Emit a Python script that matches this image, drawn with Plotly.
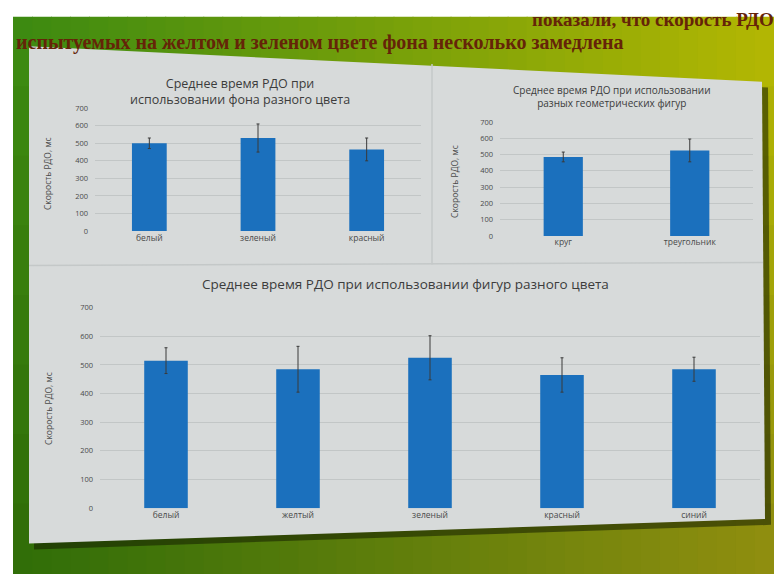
import plotly.graph_objects as go

W, H = 774, 578

# ---- data ----
title1 = "Среднее время РДО при<br>использовании фона разного цвета"
cats1 = ["белый", "зеленый", "красный"]
vals1 = [500, 530, 465]
err1 = [30, 80, 65]

title2 = "Среднее время РДО при использовании<br>разных геометрических фигур"
cats2 = ["круг", "треугольник"]
vals2 = [485, 525]
err2 = [30, 70]

title3 = "Среднее время РДО при использовании фигур разного цвета"
cats3 = ["белый", "желтый", "зеленый", "красный", "синий"]
vals3 = [515, 485, 525, 465, 485]
err3 = [45, 80, 77, 60, 42]

y_ticks = [0, 100, 200, 300, 400, 500, 600, 700]
y_title = "Скорость РДО, мс"
slide_line1 = "показали, что скорость РДО"
slide_line2 = "испытуемых на желтом и зеленом цвете фона несколько замедлена"

BAR = "#1b70bd"
ERR = "#3a3a3a"
GRID = "#c2c6c6"
TXT = "#4a4a4a"
FONT = "Open Sans"


def px(x):
    return x / W


def py(y):
    return 1 - y / H


def hexrgb(h):
    h = h.lstrip("#")
    return [int(h[i:i + 2], 16) for i in (0, 2, 4)]


def mix(a, b, t):
    return [a[i] + (b[i] - a[i]) * t for i in range(3)]


shapes = []
# gradient slide background (decoration)
TL, TR = hexrgb("#3d8c12"), hexrgb("#b6ba02")
BL, BR = hexrgb("#2f6c08"), hexrgb("#8e8c10")
nx, ny = 40, 8
x0, y0 = 13, 12
for i in range(nx):
    for j in range(ny):
        tx = (i + 0.5) / nx
        ty = (j + 0.5) / ny
        c = mix(mix(TL, TR, tx), mix(BL, BR, tx), ty)
        shapes.append(dict(
            type="rect", xref="paper", yref="paper", layer="below",
            x0=px(x0 + (W - x0) * i / nx), x1=px(x0 + (W - x0) * (i + 1) / nx + 1),
            y0=py(y0 + (H - y0) * j / ny), y1=py(y0 + (H - y0) * (j + 1) / ny + 1),
            fillcolor="rgb(%d,%d,%d)" % tuple(int(v) for v in c),
            line=dict(width=0)))


def path(pts):
    s = "M " + " L ".join("%.5f,%.5f" % (px(a), py(b)) for a, b in pts) + " Z"
    return s


# shadow + panel
shapes.append(dict(type="path", xref="paper", yref="paper", layer="below",
                   path=path([(34, 48), (768, 84), (771, 529), (34, 554)]),
                   fillcolor="rgba(20,30,0,0.55)", line=dict(width=0)))
shapes.append(dict(type="path", xref="paper", yref="paper", layer="below",
                   path=path([(29, 42), (762, 78), (765, 523), (29, 548)]),
                   fillcolor="#d7dada", line=dict(width=0)))
# dividers
shapes.append(dict(type="line", xref="paper", yref="paper", layer="below",
                   x0=px(29), x1=px(763), y0=py(265), y1=py(262),
                   line=dict(color="#c4c8c8", width=1.5)))
shapes.append(dict(type="line", xref="paper", yref="paper", layer="below",
                   x0=px(432), x1=px(432), y0=py(60), y1=py(264),
                   line=dict(color="#c4c8c8", width=1.5)))

fig = go.Figure()


def add_chart(idx, cats, vals, errs, xdom, ydom, bw):
    xa = "x" if idx == 1 else "x%d" % idx
    ya = "y" if idx == 1 else "y%d" % idx
    fig.add_trace(go.Bar(
        x=cats, y=vals, xaxis=xa, yaxis=ya, width=bw,
        marker=dict(color=BAR, line=dict(width=0)),
        error_y=dict(type="data", array=errs, visible=True,
                     color=ERR, thickness=1, width=1.5),
        showlegend=False))
    kx = "xaxis" if idx == 1 else "xaxis%d" % idx
    ky = "yaxis" if idx == 1 else "yaxis%d" % idx
    fig.layout[kx] = dict(domain=[px(xdom[0]), px(xdom[1])], anchor=ya,
                          showgrid=False, showline=False, ticks="",
                          tickfont=dict(size=8.5, color=TXT, family=FONT),
                          fixedrange=True)
    fig.layout[ky] = dict(domain=[py(ydom[1]), py(ydom[0])], anchor=xa,
                          range=[0, 700], tickvals=y_ticks,
                          showgrid=True, gridcolor=GRID, gridwidth=1,
                          zeroline=False, showline=False, ticks="",
                          ticklabelstandoff=6,
                          tickfont=dict(size=7.5, color=TXT, family=FONT),
                          fixedrange=True)


add_chart(1, cats1, vals1, err1, (95, 421), (105, 230), 0.32)
add_chart(2, cats2, vals2, err2, (500, 753), (119, 235), 0.31)
add_chart(3, cats3, vals3, err3, (100, 760), (308, 512), 0.33)

ann = []
ann.append(dict(text=title1, x=px(240), y=py(88), xref="paper", yref="paper",
                xanchor="center", yanchor="middle",
                showarrow=False, font=dict(size=12.5, color="#3c3c3c", family=FONT)))
ann.append(dict(text=title2, x=px(612), y=py(93), xref="paper", yref="paper",
                xanchor="center", yanchor="middle",
                showarrow=False, font=dict(size=10, color="#3c3c3c", family=FONT)))
ann.append(dict(text=title3, x=px(405), y=py(284), xref="paper", yref="paper",
                xanchor="center", yanchor="middle",
                showarrow=False, font=dict(size=13.5, color="#3c3c3c", family=FONT)))
for (xx, yy) in [(47, 172), (455, 180), (49, 411)]:
    ann.append(dict(text=y_title, x=px(xx), y=py(yy), xref="paper", yref="paper",
                    xanchor="center", yanchor="middle",
                    textangle=-90, showarrow=False,
                    font=dict(size=8.5, color=TXT, family=FONT)))
ann.append(dict(text="<b>" + slide_line1 + "</b>", x=px(776), y=py(15), xref="paper", yref="paper",
                xanchor="right", yanchor="middle", showarrow=False,
                font=dict(size=19, color="#652408", family="Liberation Serif")))
ann.append(dict(text="<b>" + slide_line2 + "</b>", x=px(14), y=py(38), xref="paper", yref="paper",
                xanchor="left", yanchor="middle", showarrow=False,
                font=dict(size=20, color="#652408", family="Liberation Serif")))

fig.update_layout(
    width=W, height=H, margin=dict(l=0, r=0, t=0, b=0),
    paper_bgcolor="white", plot_bgcolor="rgba(0,0,0,0)",
    shapes=shapes, annotations=ann, bargap=0.68,
)

fig.write_html("out.html", config={"displayModeBar": False},
               post_script="document.body.style.margin='0';document.body.style.overflow='hidden';")
